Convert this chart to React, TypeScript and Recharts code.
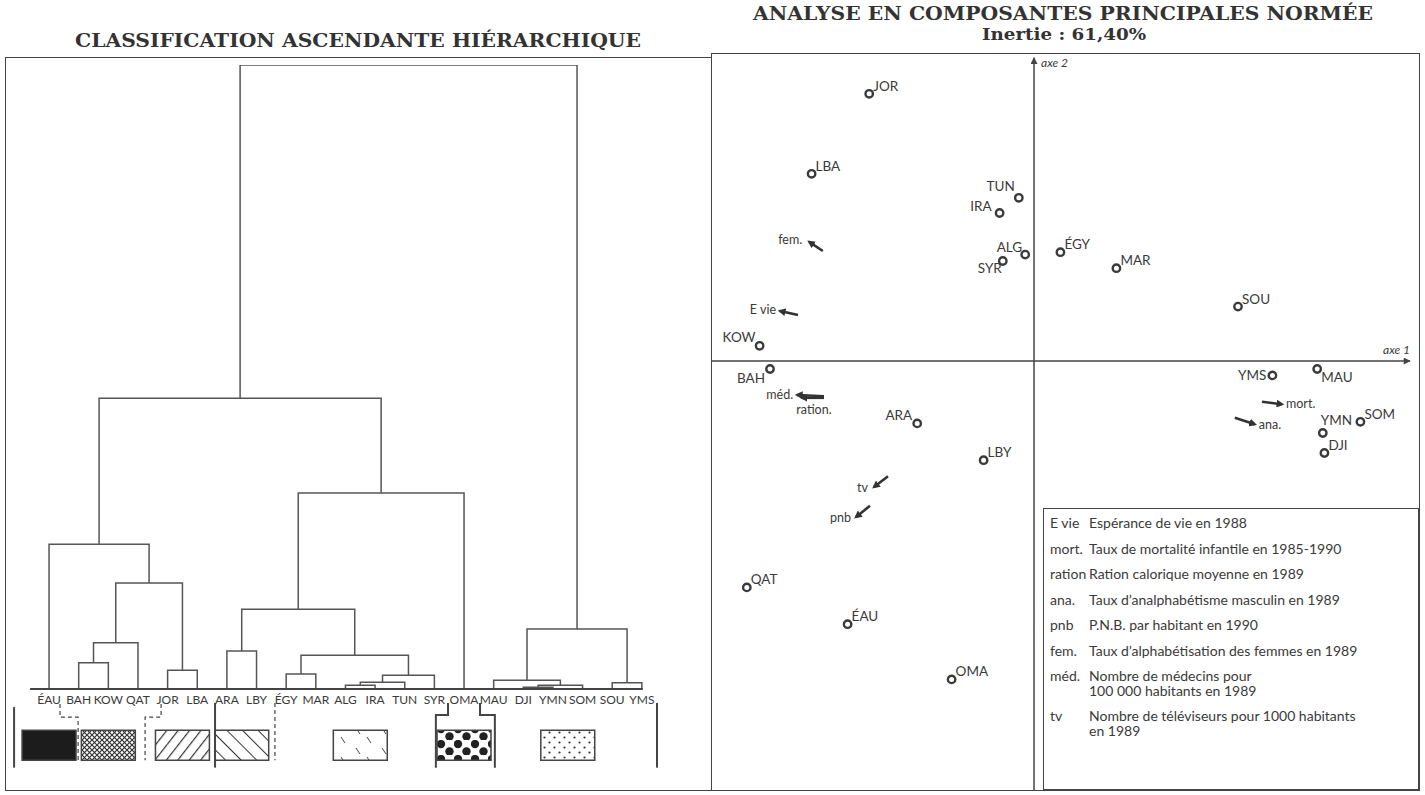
import React from 'react';
import { ComposedChart, Line, Scatter, XAxis, YAxis, ReferenceArea } from 'recharts';

const INK = '#3a3a3a';
const SANS = 'Lato, "Open Sans", sans-serif';
const SERIF = '"DejaVu Serif", "Liberation Serif", serif';

// ---------- CAH : leaves in dendrogram order ----------
const leaves = ['ÉAU', 'BAH', 'KOW', 'QAT', 'JOR', 'LBA', 'ARA', 'LBY', 'ÉGY', 'MAR', 'ALG', 'IRA', 'TUN', 'SYR', 'OMA', 'MAU', 'DJI', 'YMN', 'SOM', 'SOU', 'YMS'];

// agglomeration steps [left, right, height] ; "#n" is the cluster built at step n
const merges: [string, string, number][] = [
  ['DJI', 'YMN', 0.3],
  ['ALG', 'IRA', 0.6],
  ['#0', 'SOM', 0.6],
  ['SOU', 'YMS', 1.0],
  ['#1', 'TUN', 1.1],
  ['MAU', '#2', 1.4],
  ['#4', 'SYR', 2.2],
  ['ÉGY', 'MAR', 2.4],
  ['JOR', 'LBA', 3.0],
  ['BAH', 'KOW', 4.2],
  ['#7', '#6', 5.4],
  ['ARA', 'LBY', 6.1],
  ['#9', 'QAT', 7.4],
  ['#5', '#3', 9.6],
  ['#11', '#10', 12.8],
  ['#12', '#8', 17.0],
  ['ÉAU', '#15', 23.2],
  ['#14', 'OMA', 31.4],
  ['#16', '#17', 46.6],
  ['#18', '#13', 100],
];

const classes = [
  ['ÉAU'],
  ['BAH', 'KOW', 'QAT'],
  ['JOR', 'LBA'],
  ['ARA', 'LBY'],
  ['ÉGY', 'MAR', 'ALG', 'IRA', 'TUN', 'SYR'],
  ['OMA'],
  ['MAU', 'DJI', 'YMN', 'SOM', 'SOU', 'YMS'],
];
const classFills = ['#1c1c1c', 'url(#pCross)', 'url(#pFwd)', 'url(#pBack)', 'url(#pLight)', 'url(#pBigDots)', 'url(#pDots)'];

// ---------- ACP : factor coordinates ----------
const countries = ['JOR', 'LBA', 'TUN', 'IRA', 'ALG', 'SYR', 'ÉGY', 'MAR', 'SOU', 'KOW', 'BAH', 'YMS', 'MAU', 'YMN', 'SOM', 'DJI', 'ARA', 'LBY', 'QAT', 'ÉAU', 'OMA'];
const axe1 = [-2.06, -2.78, -0.19, -0.43, -0.11, -0.39, 0.33, 1.03, 2.55, -3.43, -3.3, 2.98, 3.54, 3.61, 4.08, 3.63, -1.46, -0.63, -3.59, -2.33, -1.03];
const axe2 = [3.34, 2.34, 2.04, 1.85, 1.33, 1.25, 1.36, 1.16, 0.68, 0.19, -0.1, -0.18, -0.1, -0.9, -0.76, -1.15, -0.78, -1.24, -2.83, -3.29, -3.98];

const variables = ['fem.', 'E vie', 'méd.', 'ration.', 'tv', 'pnb', 'mort.', 'ana.'];
const varTail1 = [-2.64, -2.95, -2.625, -2.625, -1.825, -2.05, 2.85, 2.51];
const varTail2 = [1.375, 0.575, -0.44, -0.46, -1.44, -1.81, -0.51, -0.71];
const varHead1 = [-2.81, -3.175, -2.96, -2.9, -2.0, -2.225, 3.1, 2.76];
const varHead2 = [1.49, 0.625, -0.425, -0.46, -1.575, -1.95, -0.54, -0.79];

const glossaryAbbr = ['E vie', 'mort.', 'ration', 'ana.', 'pnb', 'fem.', 'méd.', 'tv'];
const glossaryText = [
  ['Espérance de vie en 1988'],
  ['Taux de mortalité infantile en 1985-1990'],
  ['Ration calorique moyenne en 1989'],
  ['Taux d’analphabétisme masculin en 1989'],
  ['P.N.B. par habitant en 1990'],
  ['Taux d’alphabétisation des femmes en 1989'],
  ['Nombre de médecins pour', '100 000 habitants en 1989'],
  ['Nombre de téléviseurs pour 1000 habitants', 'en 1989'],
];

// ---------- derived tables ----------
const nodes: Record<string, { x: number; h: number }> = {};
leaves.forEach((name, i) => {
  nodes[name] = { x: i, h: 0 };
});
const links = merges.map(([a, b, h], i) => {
  const l = nodes[a];
  const r = nodes[b];
  nodes['#' + i] = { x: (l.x + r.x) / 2, h };
  return [
    { x: l.x, y: l.h },
    { x: l.x, y: h },
    { x: r.x, y: h },
    { x: r.x, y: r.h },
  ];
});
const leafData = leaves.map((name, i) => ({ x: i, y: 0, name }));
const classCenters = classes.map((c) => c.reduce((s, n) => s + leaves.indexOf(n), 0) / c.length);

const pcaPoints = countries.map((name, i) => ({ name, x: axe1[i], y: axe2[i] }));
const pcaArrows = variables.map((name, i) => [
  { x: varTail1[i], y: varTail2[i], name },
  { x: varHead1[i], y: varHead2[i], name },
]);

// ---------- layout / style ----------
const DENDRO_X: [number, number] = [-1.25, 20.78];
const DENDRO_Y: [number, number] = [-12.66, 100];
const BASE_LINE = [{ x: -0.64, y: 0 }, { x: 20.03, y: 0 }];
const BOX_HALF = 0.91;
const BOX_Y: [number, number] = [-11.4, -6.6];

const classFrames: { pts: number[][]; dashed: boolean }[] = [
  { pts: [[-1.18, -2.9], [-1.18, -12.6]], dashed: false },
  { pts: [[0.37, -2.4], [0.37, -4.5], [0.98, -4.5], [0.98, -11.4]], dashed: true },
  { pts: [[3.78, -2.4], [3.78, -4.5], [3.24, -4.5], [3.24, -11.4]], dashed: true },
  { pts: [[5.6, -2.24], [5.6, -12.6]], dashed: false },
  { pts: [[7.62, -2.24], [7.62, -11.4]], dashed: true },
  { pts: [[13.46, -2.24], [13.46, -4.17], [13.05, -4.17], [13.05, -12.6]], dashed: false },
  { pts: [[14.54, -2.24], [14.54, -4.17], [15.04, -4.17], [15.04, -12.6]], dashed: false },
  { pts: [[20.51, -2.24], [20.51, -12.6]], dashed: false },
];

const PCA_X: [number, number] = [-4.025, 4.8];
const PCA_Y: [number, number] = [-5.3625, 3.85];
const axisH = [{ x: PCA_X[0], y: 0 }, { x: 4.7, y: 0 }];
const axisV = [{ x: 0, y: PCA_Y[0] }, { x: 0, y: 3.79 }];

type Place = [number, number, 'start' | 'middle' | 'end'];
const pointPlace: Record<string, Place> = {
  TUN: [-4, -7, 'end'],
  IRA: [-8, -2, 'end'],
  ALG: [-3, -3, 'end'],
  SYR: [-1, 12, 'end'],
  KOW: [-4, -4, 'end'],
  BAH: [-5, 14, 'end'],
  YMS: [-6, 5, 'end'],
  MAU: [4, 13, 'start'],
  YMN: [-2, -8, 'start'],
  ARA: [-5, -3, 'end'],
};
const arrowPlace: Record<string, Place> = {
  'fem.': [-7, 2, 'end'],
  'E vie': [-4, 3, 'end'],
  'méd.': [-4, 4, 'end'],
  'ration.': [12, 16, 'middle'],
  tv: [-6, 5, 'end'],
  pnb: [-5, 5, 'end'],
  'mort.': [4, 4, 'start'],
  'ana.': [4, 5, 'start'],
};

const LeafLabel = (p: any) => (
  <text x={p.cx} y={p.cy + 15} textAnchor="middle" fontSize={12} fontFamily={SANS} fill={INK}>
    {p.payload.name}
  </text>
);

const CountryMark = (p: any) => {
  const [dx, dy, anchor] = pointPlace[p.payload.name] ?? ([4, -3, 'start'] as Place);
  return (
    <g>
      <circle cx={p.cx} cy={p.cy} r={3.7} fill="#fff" stroke={INK} strokeWidth={2.4} />
      <text x={p.cx + dx} y={p.cy + dy} textAnchor={anchor} fontSize={13.5} fontFamily={SANS} fill={INK}>
        {p.payload.name}
      </text>
    </g>
  );
};

const headText = (text: string, place: Place, italic = false) => (p: any) =>
  p.index === 1 ? (
    <text
      key={`h${p.index}`}
      x={p.cx + place[0]}
      y={p.cy + place[1]}
      textAnchor={place[2]}
      fontSize={italic ? 12 : 12.5}
      fontStyle={italic ? 'italic' : 'normal'}
      fontFamily={SANS}
      fill={INK}
    >
      {text}
    </text>
  ) : (
    <g key={`t${p.index}`} />
  );

function Dendrogram() {
  return (
    <div style={{ position: 'absolute', left: 12, top: 65 }}>
      <ComposedChart width={653} height={703} margin={{ top: 0, right: 0, bottom: 0, left: 0 }}>
        <defs>
          <pattern id="pCross" width="5" height="5" patternUnits="userSpaceOnUse">
            <rect width="5" height="5" fill="#fff" />
            <path d="M0,0 L5,5 M5,0 L0,5" stroke="#333" strokeWidth="1.2" />
          </pattern>
          <pattern id="pFwd" width="9" height="9" patternUnits="userSpaceOnUse" patternTransform="rotate(38)">
            <rect width="9" height="9" fill="#fff" />
            <line x1="0" y1="0" x2="0" y2="9" stroke="#333" strokeWidth="2.4" />
          </pattern>
          <pattern id="pBack" width="11" height="11" patternUnits="userSpaceOnUse" patternTransform="rotate(-45)">
            <rect width="11" height="11" fill="#fff" />
            <line x1="0" y1="0" x2="0" y2="11" stroke="#333" strokeWidth="2" />
          </pattern>
          <pattern id="pLight" width="26" height="20" patternUnits="userSpaceOnUse">
            <rect width="26" height="20" fill="#fff" />
            <path d="M6,3 L10,9 M17,12 L21,18" stroke="#444" strokeWidth="1" />
          </pattern>
          <pattern id="pBigDots" width="17" height="15" patternUnits="userSpaceOnUse">
            <rect width="17" height="15" fill="#fff" />
            <circle cx="4" cy="4" r="4.2" fill="#222" />
            <circle cx="12.5" cy="11.5" r="4.2" fill="#222" />
          </pattern>
          <pattern id="pDots" width="10" height="10" patternUnits="userSpaceOnUse">
            <rect width="10" height="10" fill="#fff" />
            <circle cx="2.5" cy="2.5" r="1.1" fill="#333" />
            <circle cx="7.5" cy="7.5" r="1.1" fill="#333" />
          </pattern>
        </defs>
        <XAxis type="number" dataKey="x" domain={DENDRO_X} hide />
        <YAxis type="number" dataKey="y" domain={DENDRO_Y} hide />
        {links.map((d, i) => (
          <Line key={`link${i}`} data={d} dataKey="y" type="linear" stroke="#555" strokeWidth={1.5} dot={false} activeDot={false} legendType="none" isAnimationActive={false} />
        ))}
        <Line data={BASE_LINE} dataKey="y" type="linear" stroke="#444" strokeWidth={2.2} dot={false} activeDot={false} legendType="none" isAnimationActive={false} />
        {classFrames.map((f, i) => (
          <Line
            key={`frame${i}`}
            data={f.pts.map(([x, y]) => ({ x, y }))}
            dataKey="y"
            type="linear"
            stroke="#444"
            strokeWidth={f.dashed ? 1.2 : 2}
            strokeDasharray={f.dashed ? '4 3' : undefined}
            dot={false}
            activeDot={false}
            legendType="none"
            isAnimationActive={false}
          />
        ))}
        {classCenters.map((c, i) => (
          <ReferenceArea
            key={`cls${i}`}
            x1={c - BOX_HALF}
            x2={c + BOX_HALF}
            y1={BOX_Y[0]}
            y2={BOX_Y[1]}
            fill={classFills[i]}
            fillOpacity={1}
            stroke="#444"
            strokeWidth={1.5}
            ifOverflow="visible"
          />
        ))}
        <Scatter data={leafData} shape={LeafLabel} legendType="none" isAnimationActive={false} />
      </ComposedChart>
    </div>
  );
}

function PcaPlane() {
  return (
    <div style={{ position: 'absolute', left: 712, top: 53 }}>
      <ComposedChart width={706} height={737} margin={{ top: 0, right: 0, bottom: 0, left: 0 }}>
        <defs>
          <marker id="varHead" viewBox="0 0 10 10" refX="7" refY="5" markerWidth="3" markerHeight="3" orient="auto">
            <path d="M0,0 L10,5 L0,10 z" fill="#333" />
          </marker>
          <marker id="axisHead" viewBox="0 0 10 10" refX="9" refY="5" markerUnits="userSpaceOnUse" markerWidth="9" markerHeight="7" orient="auto">
            <path d="M0,0 L10,5 L0,10 z" fill="#444" />
          </marker>
        </defs>
        <XAxis type="number" dataKey="x" domain={PCA_X} hide />
        <YAxis type="number" dataKey="y" domain={PCA_Y} hide />
        <Line data={axisH} dataKey="y" type="linear" stroke="#444" strokeWidth={1.5} markerEnd="url(#axisHead)" dot={headText('axe 1', [0, -7, 'end'], true)} activeDot={false} legendType="none" isAnimationActive={false} />
        <Line data={axisV} dataKey="y" type="linear" stroke="#444" strokeWidth={1.5} markerEnd="url(#axisHead)" dot={headText('axe 2', [7, 9, 'start'], true)} activeDot={false} legendType="none" isAnimationActive={false} />
        {pcaArrows.map((d, i) => (
          <Line
            key={`var${i}`}
            data={d}
            dataKey="y"
            type="linear"
            stroke="#333"
            strokeWidth={2.6}
            markerEnd="url(#varHead)"
            dot={headText(variables[i], arrowPlace[variables[i]])}
            activeDot={false}
            legendType="none"
            isAnimationActive={false}
          />
        ))}
        <Scatter data={pcaPoints} shape={CountryMark} legendType="none" isAnimationActive={false} />
      </ComposedChart>
    </div>
  );
}

function Glossary() {
  return (
    <div
      style={{
        position: 'absolute',
        left: 1043,
        top: 508,
        width: 376,
        height: 282,
        boxSizing: 'border-box',
        border: '1.5px solid #444',
        padding: '1px 0 0 6px',
        fontFamily: SANS,
        fontSize: 14,
        color: INK,
      }}
    >
      {glossaryAbbr.map((abbr, i) => {
        const lines = glossaryText[i];
        const multi = lines.length > 1;
        return (
          <div key={abbr} style={{ display: 'flex', lineHeight: multi ? '15px' : '25.5px', paddingTop: multi ? 5 : 0, paddingBottom: multi ? 5 : 0 }}>
            <div style={{ width: 39, flex: 'none' }}>{abbr}</div>
            <div>
              {lines.map((l) => (
                <div key={l}>{l}</div>
              ))}
            </div>
          </div>
        );
      })}
    </div>
  );
}

export default function App() {
  return (
    <div style={{ position: 'absolute', left: 0, top: 0, width: 1425, height: 795, background: '#fff', overflow: 'hidden' }}>
      <svg width={1425} height={56} style={{ position: 'absolute', left: 0, top: 0 }}>
        <text x={358} y={47} textAnchor="middle" textLength={566} lengthAdjust="spacingAndGlyphs" fontFamily={SERIF} fontWeight="bold" fontSize={19} fill="#333">
          CLASSIFICATION ASCENDANTE HIÉRARCHIQUE
        </text>
        <text x={1063} y={20} textAnchor="middle" textLength={620} lengthAdjust="spacingAndGlyphs" fontFamily={SERIF} fontWeight="bold" fontSize={18} fill="#333">
          ANALYSE EN COMPOSANTES PRINCIPALES NORMÉE
        </text>
        <text x={1064} y={40} textAnchor="middle" textLength={164} lengthAdjust="spacingAndGlyphs" fontFamily={SERIF} fontWeight="bold" fontSize={16} fill="#333">
          Inertie : 61,40%
        </text>
      </svg>
      <div style={{ position: 'absolute', left: 5, top: 57, width: 707, height: 734, boxSizing: 'border-box', border: '1.5px solid #444' }} />
      <div style={{ position: 'absolute', left: 711, top: 53, width: 709, height: 738, boxSizing: 'border-box', border: '1.5px solid #444' }} />
      <Dendrogram />
      <PcaPlane />
      <Glossary />
    </div>
  );
}
